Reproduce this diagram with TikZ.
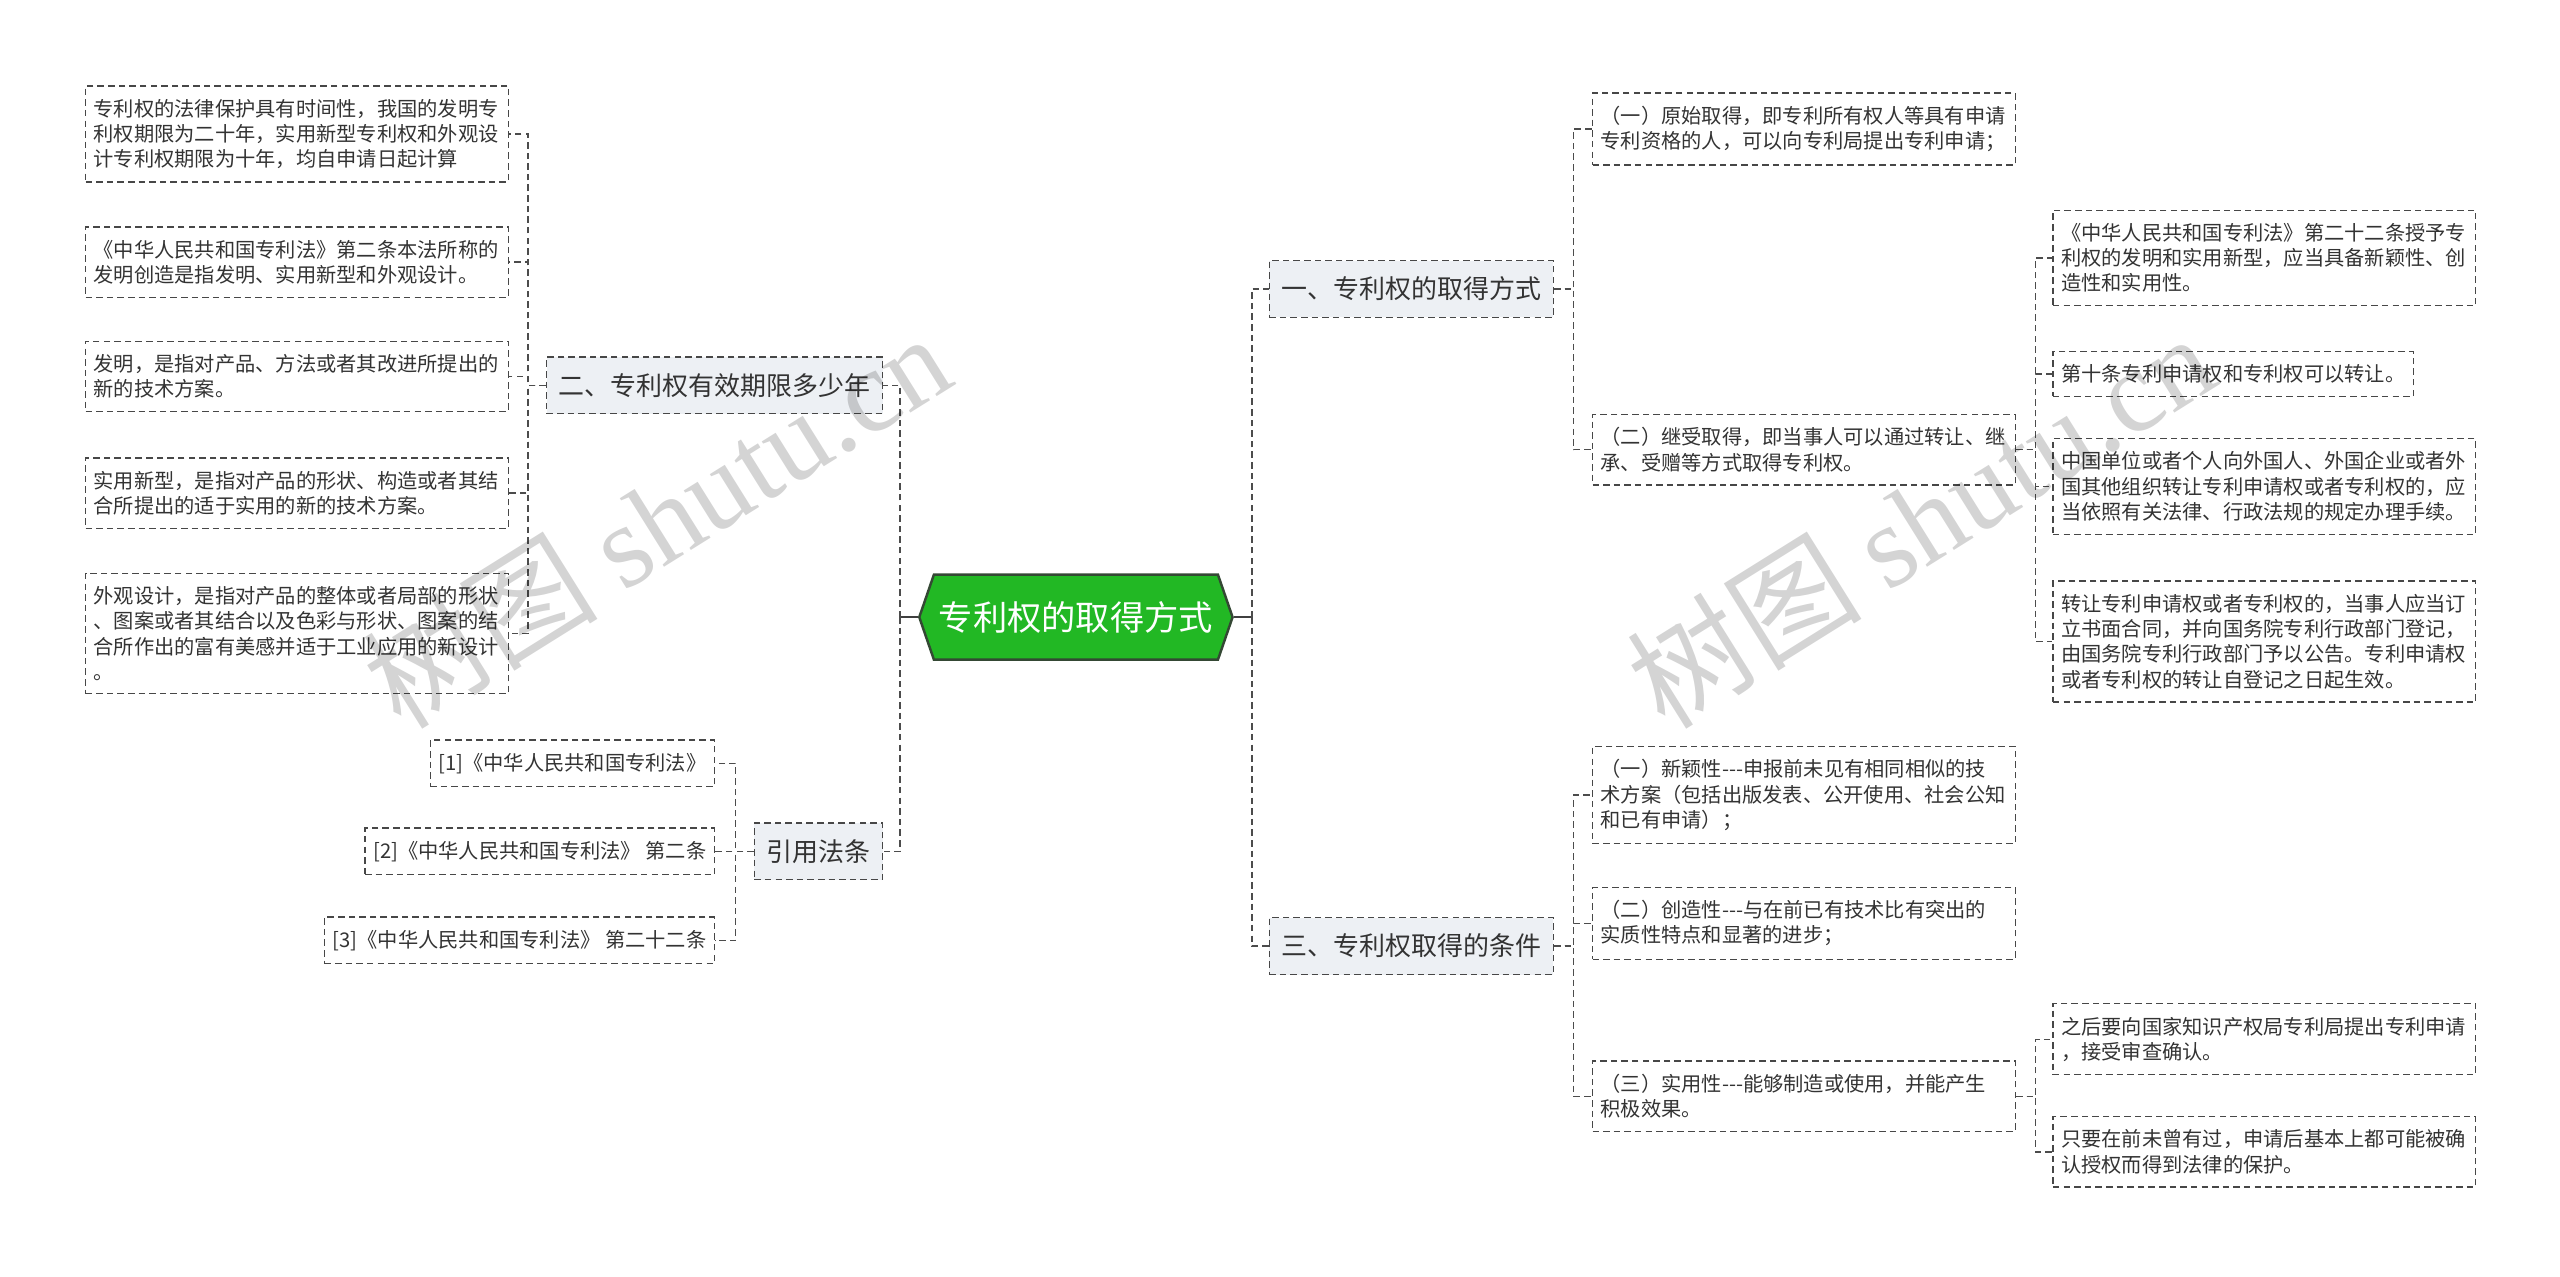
\documentclass[tikz,border=0pt]{standalone}
\usepackage{fontspec}
\setmainfont{Noto Sans CJK SC}
\newfontfamily\wmfont{Liberation Serif}
\usepackage{xcolor}
\usepackage{tikz}
\usetikzlibrary{positioning,shapes.symbols,calc}
\definecolor{topicfill}{RGB}{237,240,244}
\definecolor{rootfill}{RGB}{34,184,36}
\definecolor{rootline}{RGB}{52,72,52}
\definecolor{inkgray}{RGB}{51,51,51}
\newcommand{\tdash}{\mbox{-}\mbox{-}\mbox{-}}
\tikzset{
  leafbox/.style={rectangle, draw=black!72, dash pattern=on 4pt off 2.5pt, line width=0.8pt,
                  align=left, text=inkgray, font=\fontsize{12.4}{15.5}\selectfont,
                  inner xsep=5pt, inner ysep=8pt},
  wrapbox/.style={leafbox, text width=249pt},
  topicbox/.style={rectangle, draw=black!72, dash pattern=on 4pt off 2.5pt, line width=0.8pt,
                   fill=topicfill, text=inkgray, font=\fontsize{15.9}{18}\selectfont,
                   inner xsep=7.5pt, inner ysep=10pt},
  rootbox/.style={signal, signal to=east and west, signal pointer angle=142, draw=rootline,
                  line width=1.5pt, fill=rootfill, text=white, font=\fontsize{21}{24}\selectfont,
                  inner xsep=3pt, minimum height=52pt},
  conn/.style={draw=black!70, dash pattern=on 4pt off 2.5pt, line width=0.8pt},
  rootconn/.style={draw=black!75, line width=1.3pt},
  wmark/.style={text=black, text opacity=0.17, font=\fontsize{72}{72}\selectfont, rotate=32},
}
\begin{document}
\begin{tikzpicture}[x=1pt,y=-1pt]
\useasboundingbox (0,0) rectangle (1568,782);
\node[rootbox] (R) at (659,378) {专利权的取得方式};
\node[topicbox, anchor=east] (B2) at (541,236) {二、专利权有效期限多少年};
\node[topicbox, anchor=east] (B4) at (541,521.5) {引用法条};
\node[topicbox, anchor=west] (B1) at (777,177) {一、专利权的取得方式};
\node[topicbox, anchor=west] (B3) at (777,579.5) {三、专利权取得的条件};
\node[wrapbox, anchor=west] (L1) at (52,82) {专利权的法律保护具有时间性，我国的发明专\\利权期限为二十年，实用新型专利权和外观设\\计专利权期限为十年，均自申请日起计算};
\node[wrapbox, anchor=west] (L2) at (52,160.5) {《中华人民共和国专利法》第二条本法所称的\\发明创造是指发明、实用新型和外观设计。};
\node[wrapbox, anchor=west] (L3) at (52,230.5) {发明，是指对产品、方法或者其改进所提出的\\新的技术方案。};
\node[wrapbox, anchor=west] (L4) at (52,302) {实用新型，是指对产品的形状、构造或者其结\\合所提出的适于实用的新的技术方案。};
\node[wrapbox, anchor=west] (L5) at (52,388) {外观设计，是指对产品的整体或者局部的形状\\、图案或者其结合以及色彩与形状、图案的结\\合所作出的富有美感并适于工业应用的新设计\\。};
\node[leafbox, anchor=east] (Q1) at (438,467.5) {[1]《中华人民共和国专利法》};
\node[leafbox, anchor=east] (Q2) at (438,521.5) {[2]《中华人民共和国专利法》 第二条};
\node[leafbox, anchor=east] (Q3) at (438,576) {[3]《中华人民共和国专利法》 第二十二条};
\node[wrapbox, anchor=west] (A1) at (975,79) {（一）原始取得，即专利所有权人等具有申请\\专利资格的人，可以向专利局提出专利申请；};
\node[wrapbox, anchor=west] (A2) at (975,275.5) {（二）继受取得，即当事人可以通过转让、继\\承、受赠等方式取得专利权。};
\node[wrapbox, anchor=west] (C1) at (1257,158) {《中华人民共和国专利法》第二十二条授予专\\利权的发明和实用新型，应当具备新颖性、创\\造性和实用性。};
\node[leafbox, anchor=west] (C2) at (1257,229) {第十条专利申请权和专利权可以转让。};
\node[wrapbox, anchor=west] (C3) at (1257,298) {中国单位或者个人向外国人、外国企业或者外\\国其他组织转让专利申请权或者专利权的，应\\当依照有关法律、行政法规的规定办理手续。};
\node[wrapbox, anchor=west] (C4) at (1257,393) {转让专利申请权或者专利权的，当事人应当订\\立书面合同，并向国务院专利行政部门登记，\\由国务院专利行政部门予以公告。专利申请权\\或者专利权的转让自登记之日起生效。};
\node[wrapbox, anchor=west] (E1) at (975,487) {（一）新颖性\tdash 申报前未见有相同相似的技\\术方案（包括出版发表、公开使用、社会公知\\和已有申请）；};
\node[wrapbox, anchor=west] (E2) at (975,565.5) {（二）创造性\tdash 与在前已有技术比有突出的\\实质性特点和显著的进步；};
\node[wrapbox, anchor=west] (E3) at (975,671.5) {（三）实用性\tdash 能够制造或使用，并能产生\\积极效果。};
\node[wrapbox, anchor=west] (F1) at (1257,636.5) {之后要向国家知识产权局专利局提出专利申请\\，接受审查确认。};
\node[wrapbox, anchor=west] (F2) at (1257,705.5) {只要在前未曾有过，申请后基本上都可能被确\\认授权而得到法律的保护。};
\draw[rootconn] (R.west) -- ++(-11,0) coordinate (lsp);
\draw[rootconn] (R.east) -- ++(11,0) coordinate (rsp);
\draw[conn] (lsp) |- (B2.east);
\draw[conn] (lsp) |- (B4.east);
\draw[conn] (rsp) |- (B1.west);
\draw[conn] (rsp) |- (B3.west);
\foreach \n in {L1,L2,L3,L4,L5} \draw[conn] (B2.west) -- ++(-11,0) |- (\n.east);
\foreach \n in {Q1,Q2,Q3} \draw[conn] (B4.west) -- ++(-11,0) |- (\n.east);
\foreach \n in {A1,A2} \draw[conn] (B1.east) -- ++(12,0) |- (\n.west);
\foreach \n in {C1,C2,C3,C4} \draw[conn] (A2.east) -- ++(12,0) |- (\n.west);
\foreach \n in {E1,E2,E3} \draw[conn] (B3.east) -- ++(12,0) |- (\n.west);
\foreach \n in {F1,F2} \draw[conn] (E3.east) -- ++(12,0) |- (\n.west);
\node[wmark] (W1) at (402,318) {树图 {\wmfont shutu.cn}};
\node[wmark] (W2) at (1176,318) {树图 {\wmfont shutu.cn}};
\end{tikzpicture}
\end{document}
